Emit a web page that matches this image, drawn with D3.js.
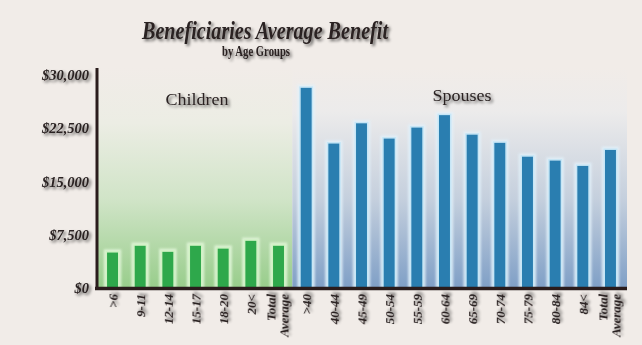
<!DOCTYPE html>
<html>
<head>
<meta charset="utf-8">
<script src="https://cdn.jsdelivr.net/npm/d3@7"></script>
<style>
  html, body { margin: 0; padding: 0; background: #f1ece8; }
  svg { display: block; }
</style>
</head>
<body>
<svg id="chart" width="642" height="345"></svg>
<script>
// Average benefit by age group, children and spouses
const childAges = [">6", "9-11", "12-14", "15-17", "18-20", "20<", "Total Average"];
const childValues = [5100, 6050, 5200, 6050, 5650, 6750, 6050];
const spouseAges = [">40", "40-44", "45-49", "50-54", "55-59", "60-64", "65-69", "70-74", "75-79", "80-84", "84<", "Total Average"];
const spouseValues = [28300, 20450, 23300, 21150, 22700, 24450, 21700, 20550, 18600, 18050, 17300, 19550];
const yTicks = [0, 7500, 15000, 22500, 30000];

const rows = [
  ...childAges.map((a, i) => ({ key: "c" + i, label: a, value: childValues[i], group: "child" })),
  ...spouseAges.map((a, i) => ({ key: "s" + i, label: a, value: spouseValues[i], group: "spouse" }))
];

const svg = d3.select("#chart");
const W = 642, H = 345;
const plotLeft = 98, plotRight = 625, plotTop = 68, plotBottom = 288;

const x = d3.scaleBand().domain(rows.map(d => d.key)).range([plotLeft, plotRight])
  .paddingInner(0.55).paddingOuter(0.3);
const y = d3.scaleLinear().domain([0, 30000]).range([plotBottom, 75]);

const defs = svg.append("defs");
const shadow = defs.append("filter").attr("id", "shadow")
  .attr("x", "-20%").attr("y", "-40%").attr("width", "150%").attr("height", "200%");
shadow.append("feGaussianBlur").attr("in", "SourceAlpha").attr("stdDeviation", 1.5).attr("result", "b");
shadow.append("feOffset").attr("in", "b").attr("dx", 1.5).attr("dy", 2).attr("result", "o");
shadow.append("feComponentTransfer").attr("in", "o").attr("result", "s")
  .append("feFuncA").attr("type", "linear").attr("slope", 0.6);
shadow.append("feGaussianBlur").attr("in", "SourceGraphic").attr("stdDeviation", 0.35).attr("result", "g");
const m = shadow.append("feMerge");
m.append("feMergeNode").attr("in", "s");
m.append("feMergeNode").attr("in", "g");

const soft = defs.append("filter").attr("id", "soft");
soft.append("feGaussianBlur").attr("stdDeviation", 0.5);
const glow = defs.append("filter").attr("id", "glow").attr("x", "-50%").attr("width", "200%");
glow.append("feGaussianBlur").attr("stdDeviation", 1.2);

function grad(id, stops) {
  const g = defs.append("linearGradient").attr("id", id)
    .attr("x1", 0).attr("y1", 0).attr("x2", 0).attr("y2", 1);
  stops.forEach(([o, c]) => g.append("stop").attr("offset", o).attr("stop-color", c));
}
grad("greenBg", [[0, "#f1ece8"], [0.25, "#ecede4"], [0.6, "#d0e4c7"], [1, "#98cd8b"]]);
grad("blueBg", [[0, "#f1ece8"], [0.2, "#ecebeb"], [0.6, "#c4cfdd"], [1, "#7f9fc6"]]);

svg.append("rect").attr("width", W).attr("height", H).attr("fill", "#f1ece8");

// group background panels
const step = x.step();
const split = x("c6") + x.bandwidth() + step * x.paddingInner() / 2;
svg.append("rect").attr("x", plotLeft).attr("y", plotTop).attr("width", split - plotLeft)
  .attr("height", plotBottom - plotTop).attr("fill", "url(#greenBg)");
svg.append("rect").attr("x", split).attr("y", plotTop).attr("width", plotRight + 2 - split)
  .attr("height", plotBottom - plotTop).attr("fill", "url(#blueBg)");

// halos behind bars
svg.append("g").selectAll("rect").data(rows).join("rect")
  .attr("x", d => x(d.key) - 2.5)
  .attr("y", d => y(d.value) - 2.5)
  .attr("width", x.bandwidth() + 5)
  .attr("height", d => plotBottom - y(d.value) + 2.5)
  .attr("fill", d => d.group === "child" ? "#e4f7dc" : "#e2f1fa")
  .attr("opacity", 0.85)
  .attr("filter", "url(#glow)");

// bars
svg.append("g").selectAll("rect").data(rows).join("rect")
  .attr("x", d => x(d.key))
  .attr("y", d => y(d.value))
  .attr("width", x.bandwidth())
  .attr("height", d => plotBottom - y(d.value))
  .attr("fill", d => d.group === "child" ? "#2fa84c" : "#2a7eb0")
  .attr("stroke", d => d.group === "child" ? "#cff2c3" : "#c6e6f6")
  .attr("stroke-width", 1.5)
  .attr("filter", "url(#soft)");

// axis lines
const axisColor = "#2a1c1c";
svg.append("line").attr("x1", plotLeft - 1).attr("x2", plotLeft - 1).attr("y1", plotTop).attr("y2", plotBottom + 2)
  .attr("stroke", axisColor).attr("stroke-width", 3);
svg.append("line").attr("x1", plotLeft - 3).attr("x2", plotRight + 2).attr("y1", plotBottom + 0.5).attr("y2", plotBottom + 0.5)
  .attr("stroke", axisColor).attr("stroke-width", 3.5);

// y tick labels
const serif = "'Liberation Serif', 'DejaVu Serif', serif";
const ink = "#2a2222";
const yAxis = d3.axisLeft(y).tickValues(yTicks).tickSize(0).tickPadding(8)
  .tickFormat(d => "$" + d3.format(",")(d));
const gy = svg.append("g").attr("transform", `translate(${plotLeft - 1},0)`).call(yAxis);
gy.select(".domain").remove();
gy.selectAll("text")
  .attr("font-family", serif).attr("font-style", "italic").attr("font-weight", "bold")
  .attr("font-size", 14.5).attr("fill", ink)
  .attr("filter", "url(#shadow)");

// x tick labels, rotated
const gx = svg.append("g");
rows.forEach(d => {
  const cx = x(d.key) + x.bandwidth() / 2;
  const t = gx.append("text")
    .attr("transform", `translate(${cx},${plotBottom + 6}) rotate(-90)`)
    .attr("text-anchor", "end")
    .attr("font-family", serif).attr("font-style", "italic").attr("font-weight", "bold")
    .attr("font-size", 13).attr("fill", ink)
    .attr("filter", "url(#shadow)");
  const parts = d.label.split(" ");
  if (parts.length === 1) {
    t.attr("dy", "0.35em").text(d.label);
  } else {
    parts.forEach((p, i) => t.append("tspan").attr("x", 0)
      .attr("dy", i === 0 ? "-0.2em" : "0.95em").text(p));
  }
});

// titles
svg.append("text").attr("x", 265).attr("y", 39).attr("text-anchor", "middle")
  .attr("font-family", serif).attr("font-style", "italic").attr("font-weight", "bold")
  .attr("font-size", 25).attr("fill", ink)
  .attr("textLength", 246).attr("lengthAdjust", "spacingAndGlyphs")
  .attr("filter", "url(#shadow)")
  .text("Beneficiaries Average Benefit");
svg.append("text").attr("x", 256).attr("y", 56).attr("text-anchor", "middle")
  .attr("font-family", serif).attr("font-weight", "bold")
  .attr("font-size", 14).attr("fill", ink)
  .attr("textLength", 68).attr("lengthAdjust", "spacingAndGlyphs")
  .attr("filter", "url(#shadow)")
  .text("by Age Groups");

// group labels
svg.append("text").attr("x", 197).attr("y", 105).attr("text-anchor", "middle")
  .attr("font-family", serif).attr("font-size", 16).attr("fill", ink)
  .attr("textLength", 63).attr("lengthAdjust", "spacingAndGlyphs")
  .attr("filter", "url(#shadow)").text("Children");
svg.append("text").attr("x", 462).attr("y", 101).attr("text-anchor", "middle")
  .attr("font-family", serif).attr("font-size", 16).attr("fill", ink)
  .attr("textLength", 59).attr("lengthAdjust", "spacingAndGlyphs")
  .attr("filter", "url(#shadow)").text("Spouses");
</script>
</body>
</html>
